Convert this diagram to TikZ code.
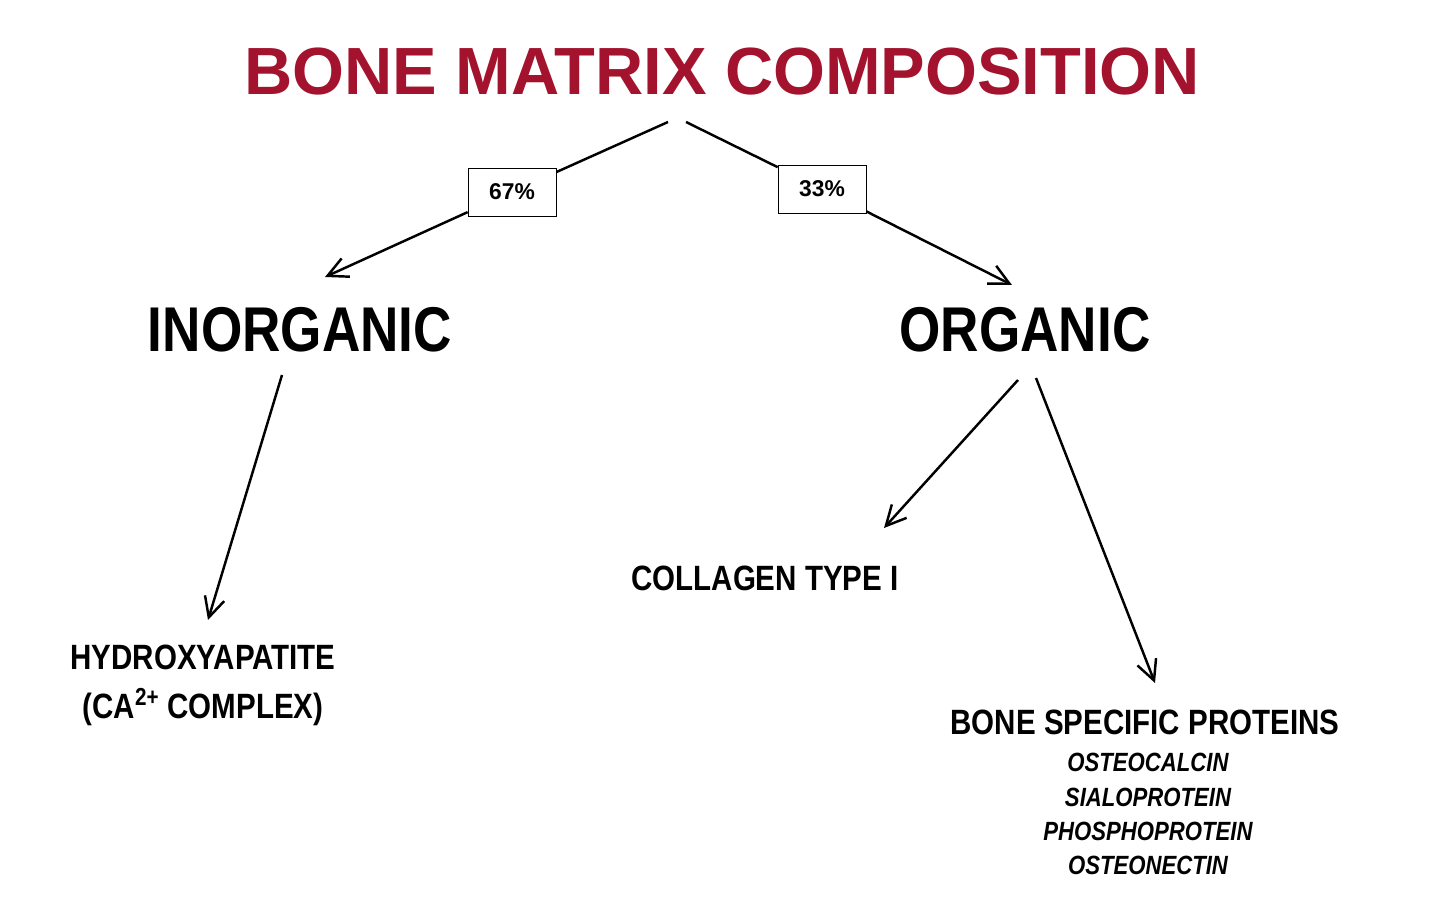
\documentclass[tikz,border=0pt]{standalone}
\usepackage{fontspec}
\setmainfont{Liberation Sans}
\usetikzlibrary{arrows.meta}
\definecolor{bonered}{HTML}{A3132E}
\tikzset{
  head/.style={font=\bfseries\fontsize{36}{40}\selectfont, xscale=0.84, inner sep=0},
  item/.style={font=\bfseries\fontsize{20}{22}\selectfont, xscale=0.84, inner sep=0},
  sub/.style={font=\bfseries\itshape\fontsize{15}{17}\selectfont, xscale=0.84, inner sep=0},
  pct/.style={draw, fill=white, font=\bfseries\fontsize{13}{15}\selectfont, minimum width=1.76cm, minimum height=0.96cm},
  link/.style={line width=1.4pt},
  arr/.style={line width=1.4pt, -{Straight Barb[length=4mm,width=4mm]}}
}
\begin{document}
\begin{tikzpicture}[x=0.02cm,y=-0.02cm]
    \useasboundingbox (0,0) rectangle (1440,915);
    \node[font=\bfseries\fontsize{38}{42}\selectfont, text=bonered, inner sep=0] (title) at (722,72) {BONE MATRIX COMPOSITION};
    \node[pct] (p67) at (512,192) {67\%};
    \node[pct] (p33) at (822,189) {33\%};
    \node[head] (inorg) at (300,330) {INORGANIC};
    \node[head] (org) at (1025,330) {ORGANIC};
    \node[item] (hydro) at (203,657) {HYDROXYAPATITE};
    \node[item] (complex) at (203,707) {(CA\textsuperscript{2+} COMPLEX)};
    \node[item] (coll) at (765,578) {COLLAGEN TYPE I};
    \node[item] (bsp) at (1145,722) {BONE SPECIFIC PROTEINS};
    \node[sub] (s1) at (1148,762) {OSTEOCALCIN};
    \node[sub] (s2) at (1148,797) {SIALOPROTEIN};
    \node[sub] (s3) at (1148,831) {PHOSPHOPROTEIN};
    \node[sub] (s4) at (1148,865) {OSTEONECTIN};

    \coordinate (tl) at (668,122);
    \coordinate (tr) at (686,122);
    \coordinate (inorgtip) at (325,277);
    \coordinate (orgtip) at (1012,285);
    \coordinate (inorgout) at (282,375);
    \coordinate (hydrotip) at (208,620);
    \coordinate (orgoutl) at (1018,380);
    \coordinate (colltip) at (884,528);
    \coordinate (orgoutr) at (1036,378);
    \coordinate (bsptip) at (1155,683);

    \draw[link] (tl) -- (p67);
    \draw[arr] (p67) -- (inorgtip);
    \draw[link] (tr) -- (p33);
    \draw[arr] (p33) -- (orgtip);
    \draw[arr] (inorgout) -- (hydrotip);
    \draw[arr] (orgoutl) -- (colltip);
    \draw[arr] (orgoutr) -- (bsptip);
\end{tikzpicture}
\end{document}
